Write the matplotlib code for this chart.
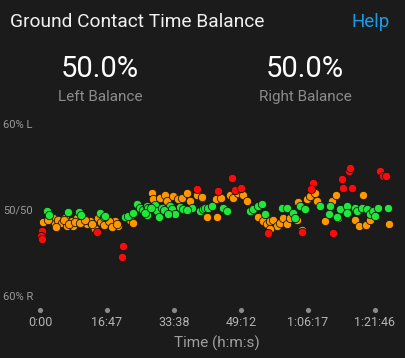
import matplotlib
matplotlib.use('agg')
import matplotlib.pyplot as plt

W, H = 406, 358
BG = "#1b1b1b"

# elapsed time (minutes) and balance (% toward left, 0 = 50/50)
green_t = [1.6, 2.3, 6.9, 9.5, 10.0, 14.6, 15.5, 15.9, 20.7, 21.5, 22.8, 23.6, 24.4, 25.2,
           26.0, 26.0, 26.4, 28.1, 28.5, 29.1, 29.7, 31.7, 32.1, 33.0, 34.2, 34.8, 37.0,
           39.1, 39.9, 40.3, 41.1, 41.9, 44.7, 45.6, 51.3, 52.1, 53.3, 54.1, 54.9, 59.0,
           60.4, 61.8, 62.2, 63.5, 64.7, 68.3, 70.8, 70.6, 72.4, 73.2, 74.9, 74.9, 76.9,
           77.3, 78.5, 79.7, 80.5, 81.4, 81.8, 82.6, 85.0,
           25.6, 27.0, 30.3, 31.2, 36.0]
green_b = [0.0, -0.5, -0.1, -0.1, -0.5, -0.2, -0.7, -0.6, -0.7, -0.6, -0.2, 0.8, 0.4, 0.1,
           0.6, -0.5, 0.4, 0.7, 0.0, -0.7, 0.4, 0.6, 0.2, -0.4, 0.5, 0.2, 0.3,
           0.0, 0.2, 0.3, 0.4, 0.6, 0.4, 0.0, 0.0, 0.2, 0.6, 0.8, -0.4, 0.3,
           0.4, -0.2, -0.8, 0.6, 0.2, 0.6, 0.6, -0.3, -0.7, 0.2, 0.6, -0.2, 0.4,
           0.0, 0.4, 0.2, -0.4, 0.0, -0.6, 0.3, 0.3,
           -0.2, 0.3, 0.1, -0.3, 0.1]

orange_t = [0.8, 3.2, 3.7, 4.5, 5.3, 6.1, 6.5, 7.7, 8.1, 9.0, 10.6, 11.4, 12.2, 13.0, 13.4,
            14.2, 16.3, 17.1, 18.3, 19.1, 22.0, 22.8, 27.3, 27.7, 29.3, 30.5, 30.9, 32.5,
            33.8, 34.6, 35.8, 36.6, 38.2, 39.5, 39.5, 43.0, 44.1, 46.4, 47.2, 48.4, 49.6,
            50.6, 40.7, 43.1, 53.3, 54.5, 55.3, 56.1, 56.9, 57.9, 58.6, 59.4, 60.4, 61.0,
            56.1, 62.7, 63.0, 65.1, 65.9, 67.1, 67.7, 71.2, 72.2, 69.6, 72.8, 76.9, 77.9,
            78.9, 79.6, 80.5, 85.3, 63.9,
            2.0, 4.0, 5.8, 7.2, 8.6, 9.8, 11.0, 12.6, 15.0, 15.6, 16.8, 17.6, 18.8]
orange_b = [-1.3, -0.8, -1.5, -1.0, -1.4, -0.8, -1.7, -1.2, -1.8, -0.8, -1.0, -1.5, -1.2, -1.7, -2.1,
            -0.8, -1.0, -1.5, -1.2, -1.7, -1.0, -1.4, 2.1, 1.4, 1.5, 1.9, 1.2, 1.7,
            1.4, 1.5, 2.1, 1.2, 1.9, 1.5, 1.6, 1.4, 1.5, 1.9, 1.5, 2.1, 1.9,
            1.2, -0.7, -0.7, -0.7, -1.2, -1.5, -1.2, -1.0, -1.7, -1.4, -0.8, -1.5, -0.8,
            -2.1, -1.0, 1.0, 1.4, 1.7, 2.1, 1.2, 1.2, 1.9, -1.2, -0.8, -1.0, -1.7,
            1.9, -1.6, -1.0, -1.5, -2.2,
            -1.0, -1.9, -1.1, -1.5, -1.3, -1.4, -1.1, -1.5, -1.3, -1.6, -1.2, -1.9, -1.5]

red_t = [0.4, 0.2, 0.4, 13.8, 20.3, 20.0, 38.4, 46.9, 43.5, 47.6, 49.0, 55.7, 66.7, 66.1,
         75.3, 75.7, 73.6, 73.9, 76.1, 71.6, 83.0, 83.8, 84.5, 63.9]
red_b = [-2.3, -2.9, -3.3, -2.4, -4.1, -5.4, 2.6, 3.8, 2.3, 2.5, 2.7, -2.6, 3.2, 2.6,
         4.7, 5.0, 3.7, 2.7, 2.7, -2.5, 4.7, 4.1, 4.1, -2.4]

total_time = 81.767  # 1:21:46
tick_labels = ["0:00", "16:47", "33:38", "49:12", "1:06:17", "1:21:46"]

left_balance = "50.0%"
right_balance = "50.0%"

plt.rcParams['font.family'] = ['Roboto', 'DejaVu Sans']

fig = plt.figure(figsize=(W / 100, H / 100), dpi=100, facecolor=BG)


def fx(x):
    return x / W


def fy(y):
    return 1 - y / H


fig.text(fx(10), fy(22), "Ground Contact Time Balance", color="#f0f0f0", fontsize=13.8, va="center")
fig.text(fx(390), fy(22), "Help", color="#1a9be8", fontsize=13.5, va="center", ha="right")

fig.text(fx(100), fy(69), left_balance, color="#ffffff", fontsize=21, ha="center", va="center")
fig.text(fx(305), fy(69), right_balance, color="#ffffff", fontsize=21, ha="center", va="center")
fig.text(fx(100), fy(97), "Left Balance", color="#8c8c8c", fontsize=11, ha="center", va="center")
fig.text(fx(305), fy(97), "Right Balance", color="#8c8c8c", fontsize=11, ha="center", va="center")

# plot area: x 40..400 px, y 125..297 px
ax = fig.add_axes([fx(40), fy(297), (400 - 40) / W, (297 - 125) / H])
ax.set_facecolor(BG)
ax.set_xlim(0, total_time * 360 / 335)
ax.set_ylim(-10, 10)
ax.axis("off")

ms = 36
ax.scatter(orange_t, orange_b, s=ms, color="#ff9800", edgecolors="#161616", linewidths=0.6, clip_on=False, zorder=3)
ax.scatter(green_t, green_b, s=ms, color="#1ee83a", edgecolors="#161616", linewidths=0.6, clip_on=False, zorder=4)
ax.scatter(red_t, red_b, s=ms, color="#ff0a0a", edgecolors="#161616", linewidths=0.6, clip_on=False, zorder=5)

# y labels
ylab_x = (3 - 40) / 360
for val, txt in [(10, "60% L"), (0, "50/50"), (-10, "60% R")]:
    ax.text(ylab_x, val, txt, transform=ax.get_yaxis_transform(), color="#9a9a9a",
            fontsize=8, ha="left", va="center")

# x ticks: the app spaces them evenly along the track
n = len(tick_labels)
tick_pos = [total_time * i / (n - 1) for i in range(n)]
px_per_pct = 172 / 20
dot_y = -10 - (310 - 297) / px_per_pct
lab_y = -10 - (323 - 297) / px_per_pct
ax.scatter(tick_pos, [dot_y] * n, s=14, color="#8a8a8a", clip_on=False, linewidths=0)
for t, lab in zip(tick_pos, tick_labels):
    ax.text(t, lab_y, lab, color="#b4b4b4", fontsize=9, ha="center", va="center", clip_on=False)

fig.text(fx(217), fy(343), "Time (h:m:s)", color="#a0a0a0", fontsize=11, ha="center", va="center")

plt.savefig("out.png", dpi=100, facecolor=BG)
